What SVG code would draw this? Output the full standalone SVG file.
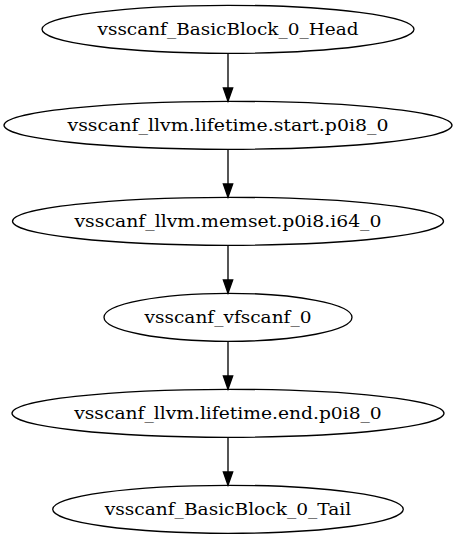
<svg xmlns="http://www.w3.org/2000/svg" width="456" height="539" viewBox="0 0 456 539">
<style>
ellipse{fill:none;stroke:#000;stroke-width:1.33}
.edge{stroke:#000;stroke-width:1.33;fill:none}
</style>
<defs>
<marker id="arr" markerUnits="userSpaceOnUse" markerWidth="14" markerHeight="10" refX="0" refY="4.67" orient="auto" overflow="visible">
<path d="M0,0 L13.33,4.67 L0,9.33 Z" fill="#000" stroke="#000" stroke-width="1.33"/>
</marker>
</defs>
<rect width="456" height="539" fill="#fff"/>
<g id="connectors">
<path class="edge" d="M228,53.3 V88" marker-end="url(#arr)"/>
<path class="edge" d="M228,149.3 V184" marker-end="url(#arr)"/>
<path class="edge" d="M228,245.3 V280" marker-end="url(#arr)"/>
<path class="edge" d="M228,341.3 V376" marker-end="url(#arr)"/>
<path class="edge" d="M228,437.3 V472" marker-end="url(#arr)"/>
</g>
<g id="n1"><ellipse cx="228" cy="29.3" rx="186" ry="24"/><text x="97.5" y="35" font-family="DejaVu Serif, Liberation Serif, serif" font-size="16.5" textLength="261" lengthAdjust="spacingAndGlyphs">vsscanf_BasicBlock_0_Head</text></g>
<g id="n2"><ellipse cx="228" cy="125.3" rx="224" ry="24"/><text x="67.5" y="131" font-family="DejaVu Serif, Liberation Serif, serif" font-size="16.5" textLength="321" lengthAdjust="spacingAndGlyphs">vsscanf_llvm.lifetime.start.p0i8_0</text></g>
<g id="n3"><ellipse cx="228" cy="221.3" rx="215.5" ry="24"/><text x="74.5" y="227" font-family="DejaVu Serif, Liberation Serif, serif" font-size="16.5" textLength="307" lengthAdjust="spacingAndGlyphs">vsscanf_llvm.memset.p0i8.i64_0</text></g>
<g id="n4"><ellipse cx="228" cy="317.3" rx="124" ry="24"/><text x="144.5" y="323" font-family="DejaVu Serif, Liberation Serif, serif" font-size="16.5" textLength="167" lengthAdjust="spacingAndGlyphs">vsscanf_vfscanf_0</text></g>
<g id="n5"><ellipse cx="228" cy="413.3" rx="216" ry="24"/><text x="74.25" y="419" font-family="DejaVu Serif, Liberation Serif, serif" font-size="16.5" textLength="307.5" lengthAdjust="spacingAndGlyphs">vsscanf_llvm.lifetime.end.p0i8_0</text></g>
<g id="n6"><ellipse cx="228" cy="509.3" rx="175.3" ry="24"/><text x="104.75" y="515" font-family="DejaVu Serif, Liberation Serif, serif" font-size="16.5" textLength="246.5" lengthAdjust="spacingAndGlyphs">vsscanf_BasicBlock_0_Tail</text></g>
</svg>
